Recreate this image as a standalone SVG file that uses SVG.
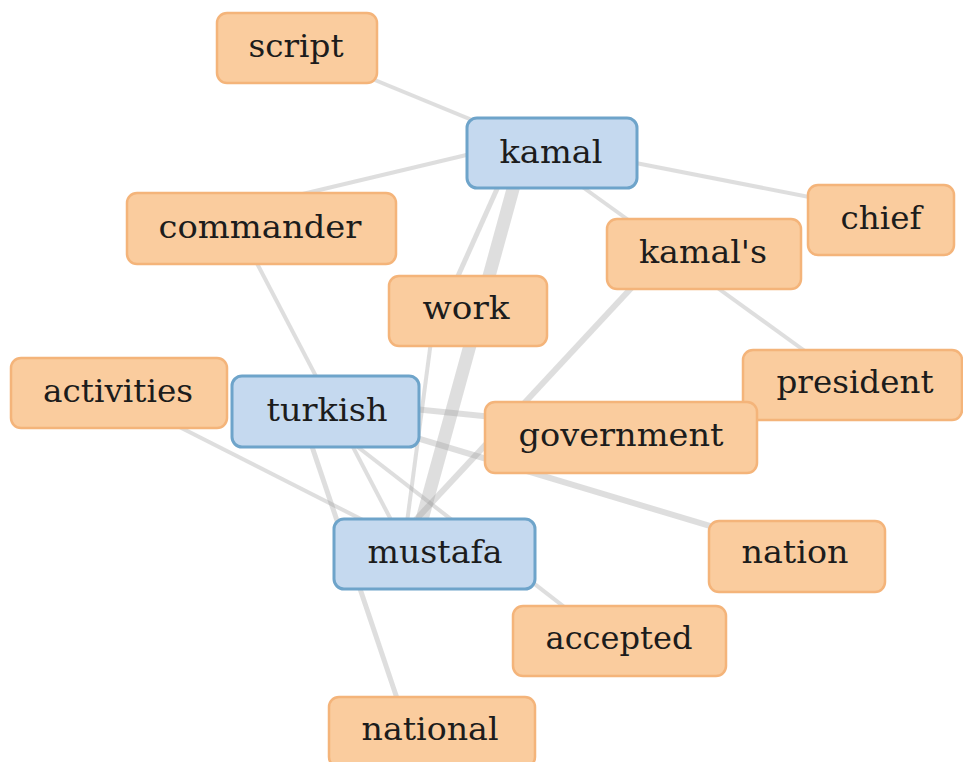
<svg xmlns="http://www.w3.org/2000/svg" width="963" height="762" viewBox="0 0 963 762">
<style>
.e{stroke:#9a9a9a;stroke-opacity:0.33;fill:none;stroke-linecap:butt}
.o{fill:#FACC9E;stroke:#F4B47A;stroke-width:2.5}
.b{fill:#C5D9EF;stroke:#6EA4CA;stroke-width:3}
.t{font-family:"DejaVu Serif","Liberation Serif",serif;font-size:32px;fill:#1c1c1c;text-anchor:middle}
</style>
<rect width="963" height="762" fill="#ffffff"/>
<g id="connectors">
<line class="e" x1="297" y1="48" x2="552" y2="153" stroke-width="4"/>
<line class="e" x1="290" y1="197" x2="500" y2="147" stroke-width="4"/>
<line class="e" x1="600" y1="156" x2="850" y2="205" stroke-width="4"/>
<line class="e" x1="570" y1="178" x2="645" y2="232" stroke-width="4"/>
<line class="e" x1="521" y1="160" x2="415" y2="545" stroke-width="13"/>
<line class="e" x1="510" y1="160" x2="445" y2="305" stroke-width="5"/>
<line class="e" x1="435" y1="311" x2="404" y2="545" stroke-width="4"/>
<line class="e" x1="662" y1="255" x2="397" y2="540" stroke-width="6"/>
<line class="e" x1="690" y1="268" x2="820" y2="362" stroke-width="4"/>
<line class="e" x1="325" y1="400" x2="620" y2="430" stroke-width="6" stroke-opacity="0.48"/>
<line class="e" x1="330" y1="412" x2="790" y2="550" stroke-width="6"/>
<line class="e" x1="323" y1="420" x2="594" y2="630" stroke-width="4"/>
<line class="e" x1="250" y1="250" x2="400" y2="537" stroke-width="4"/>
<line class="e" x1="300" y1="411" x2="405" y2="722" stroke-width="5"/>
<line class="e" x1="140" y1="407" x2="420" y2="549" stroke-width="4"/>
</g>
<g id="script"><rect class="o" x="217" y="13" width="160" height="70" rx="10"/><text class="t" x="296" y="57" textLength="95" lengthAdjust="spacingAndGlyphs">script</text></g>
<g id="kamal"><rect class="b" x="467" y="118" width="170" height="70" rx="10"/><text class="t" x="551" y="163" textLength="103" lengthAdjust="spacingAndGlyphs">kamal</text></g>
<g id="commander"><rect class="o" x="127" y="193" width="269" height="71" rx="10"/><text class="t" x="260" y="238" textLength="203" lengthAdjust="spacingAndGlyphs">commander</text></g>
<g id="chief"><rect class="o" x="808" y="185" width="146" height="70" rx="10"/><text class="t" x="881" y="229" textLength="81" lengthAdjust="spacingAndGlyphs">chief</text></g>
<g id="kamals"><rect class="o" x="607" y="219" width="194" height="70" rx="10"/><text class="t" x="703" y="263" textLength="128" lengthAdjust="spacingAndGlyphs">kamal's</text></g>
<g id="work"><rect class="o" x="389" y="276" width="158" height="70" rx="10"/><text class="t" x="466" y="319" textLength="87" lengthAdjust="spacingAndGlyphs">work</text></g>
<g id="activities"><rect class="o" x="11" y="358" width="216" height="70" rx="10"/><text class="t" x="118" y="402" textLength="150" lengthAdjust="spacingAndGlyphs">activities</text></g>
<g id="turkish"><rect class="b" x="232" y="376" width="187" height="71" rx="10"/><text class="t" x="327" y="421" textLength="121" lengthAdjust="spacingAndGlyphs">turkish</text></g>
<g id="president"><rect class="o" x="743" y="350" width="219" height="70" rx="10"/><text class="t" x="855" y="393" textLength="157" lengthAdjust="spacingAndGlyphs">president</text></g>
<g id="government"><rect class="o" x="485" y="402" width="272" height="71" rx="10"/><text class="t" x="621" y="446" textLength="205" lengthAdjust="spacingAndGlyphs">government</text></g>
<g id="mustafa"><rect class="b" x="334" y="519" width="201" height="70" rx="10"/><text class="t" x="435" y="563" textLength="135" lengthAdjust="spacingAndGlyphs">mustafa</text></g>
<g id="nation"><rect class="o" x="709" y="521" width="176" height="71" rx="10"/><text class="t" x="795" y="563" textLength="107" lengthAdjust="spacingAndGlyphs">nation</text></g>
<g id="accepted"><rect class="o" x="513" y="606" width="213" height="70" rx="10"/><text class="t" x="619" y="649" textLength="147" lengthAdjust="spacingAndGlyphs">accepted</text></g>
<g id="national"><rect class="o" x="329" y="697" width="206" height="70" rx="10"/><text class="t" x="430" y="740" textLength="137" lengthAdjust="spacingAndGlyphs">national</text></g>
</svg>
